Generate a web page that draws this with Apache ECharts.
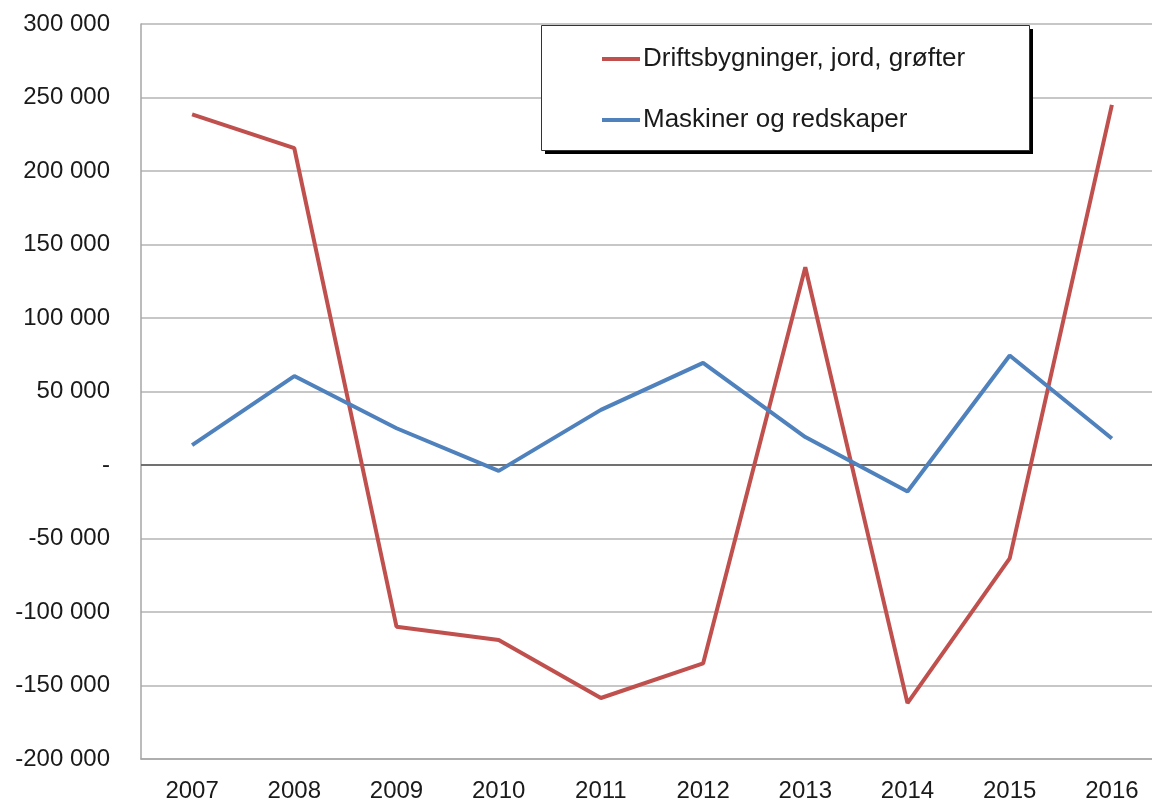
<!DOCTYPE html>
<html lang="en">
<head>
  <meta charset="UTF-8">
  <title>Investeringer</title>
  <script src="https://cdn.jsdelivr.net/npm/echarts@6/dist/echarts.min.js"></script>
  <style>
    html, body { margin: 0; padding: 0; background: #fff; }
    #chart { width: 1152px; height: 803px; }
  </style>
</head>
<body>
<div id="chart"></div>
<script>
  // data
  const years = ['2007', '2008', '2009', '2010', '2011', '2012', '2013', '2014', '2015', '2016'];
  const drift = [238500, 215500, -110000, -119000, -158500, -135000, 134500, -162000, -63500, 245000];
  const maskiner = [13500, 60500, 25000, -4000, 37500, 69500, 19000, -18000, 74500, 18000];
  const seriesNames = ['Driftsbygninger, jord, grøfter', 'Maskiner og redskaper'];

  const font = "'Liberation Sans', Arial, sans-serif";

  function fmt(v) {
    if (v === 0) return '-';
    let s = String(Math.abs(v)).replace(/\B(?=(\d{3})+(?!\d))/g, ' ');
    return (v < 0 ? '-' : '') + s;
  }

  let chart = echarts.init(document.getElementById('chart'));
  let option = {
    backgroundColor: '#fff',
    animation: false,
    grid: { left: 141, top: 24, width: 1022, bottom: 44, containLabel: false, outerBoundsMode: 'none' },
    // legend frame with hard drop shadow
    graphic: [
      { type: 'rect', z: 5, shape: { x: 545, y: 29, width: 488, height: 125 }, style: { fill: '#000' } },
      { type: 'rect', z: 5, shape: { x: 541.5, y: 25.5, width: 488, height: 125 }, style: { fill: '#fff', stroke: '#333', lineWidth: 1 } }
    ],
    legend: {
      orient: 'vertical',
      left: 541,
      top: 25,
      z: 6,
      padding: [19, 64, 15, 61],
      itemGap: 31,
      itemWidth: 38,
      itemHeight: 4,
      icon: 'rect',
      textStyle: { fontFamily: font, fontSize: 26, color: '#1a1a1a', lineHeight: 30, padding: [0, 0, 0, -2] },
      data: seriesNames
    },
    xAxis: {
      type: 'category',
      data: years,
      boundaryGap: true,
      axisLine: { onZero: false, lineStyle: { color: '#a6a6a6', width: 1.5 } },
      axisTick: { show: false },
      axisLabel: { fontFamily: font, fontSize: 24, color: '#1a1a1a', margin: 20 },
      splitLine: { show: false }
    },
    yAxis: {
      type: 'value',
      min: -200000,
      max: 300000,
      interval: 50000,
      axisLine: { show: true, lineStyle: { color: '#a6a6a6', width: 1.5 } },
      axisTick: { show: false },
      axisLabel: { fontFamily: font, fontSize: 24, color: '#1a1a1a', margin: 31, formatter: fmt },
      splitLine: { lineStyle: { color: '#b4b4b4', width: 1.5 } }
    },
    series: [
      {
        name: seriesNames[0],
        type: 'line',
        data: drift,
        symbol: 'none',
        lineStyle: { color: '#c0504d', width: 4 },
        itemStyle: { color: '#c0504d' },
        z: 3
      },
      {
        name: seriesNames[1],
        type: 'line',
        data: maskiner,
        symbol: 'none',
        lineStyle: { color: '#4f81bd', width: 4 },
        itemStyle: { color: '#4f81bd' },
        z: 4,
        markLine: {
          silent: true,
          symbol: 'none',
          label: { show: false },
          lineStyle: { color: '#555', width: 1.5, type: 'solid' },
          data: [{ yAxis: 0 }],
          z: 1
        }
      }
    ]
  };
  chart.setOption(option);
</script>
</body>
</html>
